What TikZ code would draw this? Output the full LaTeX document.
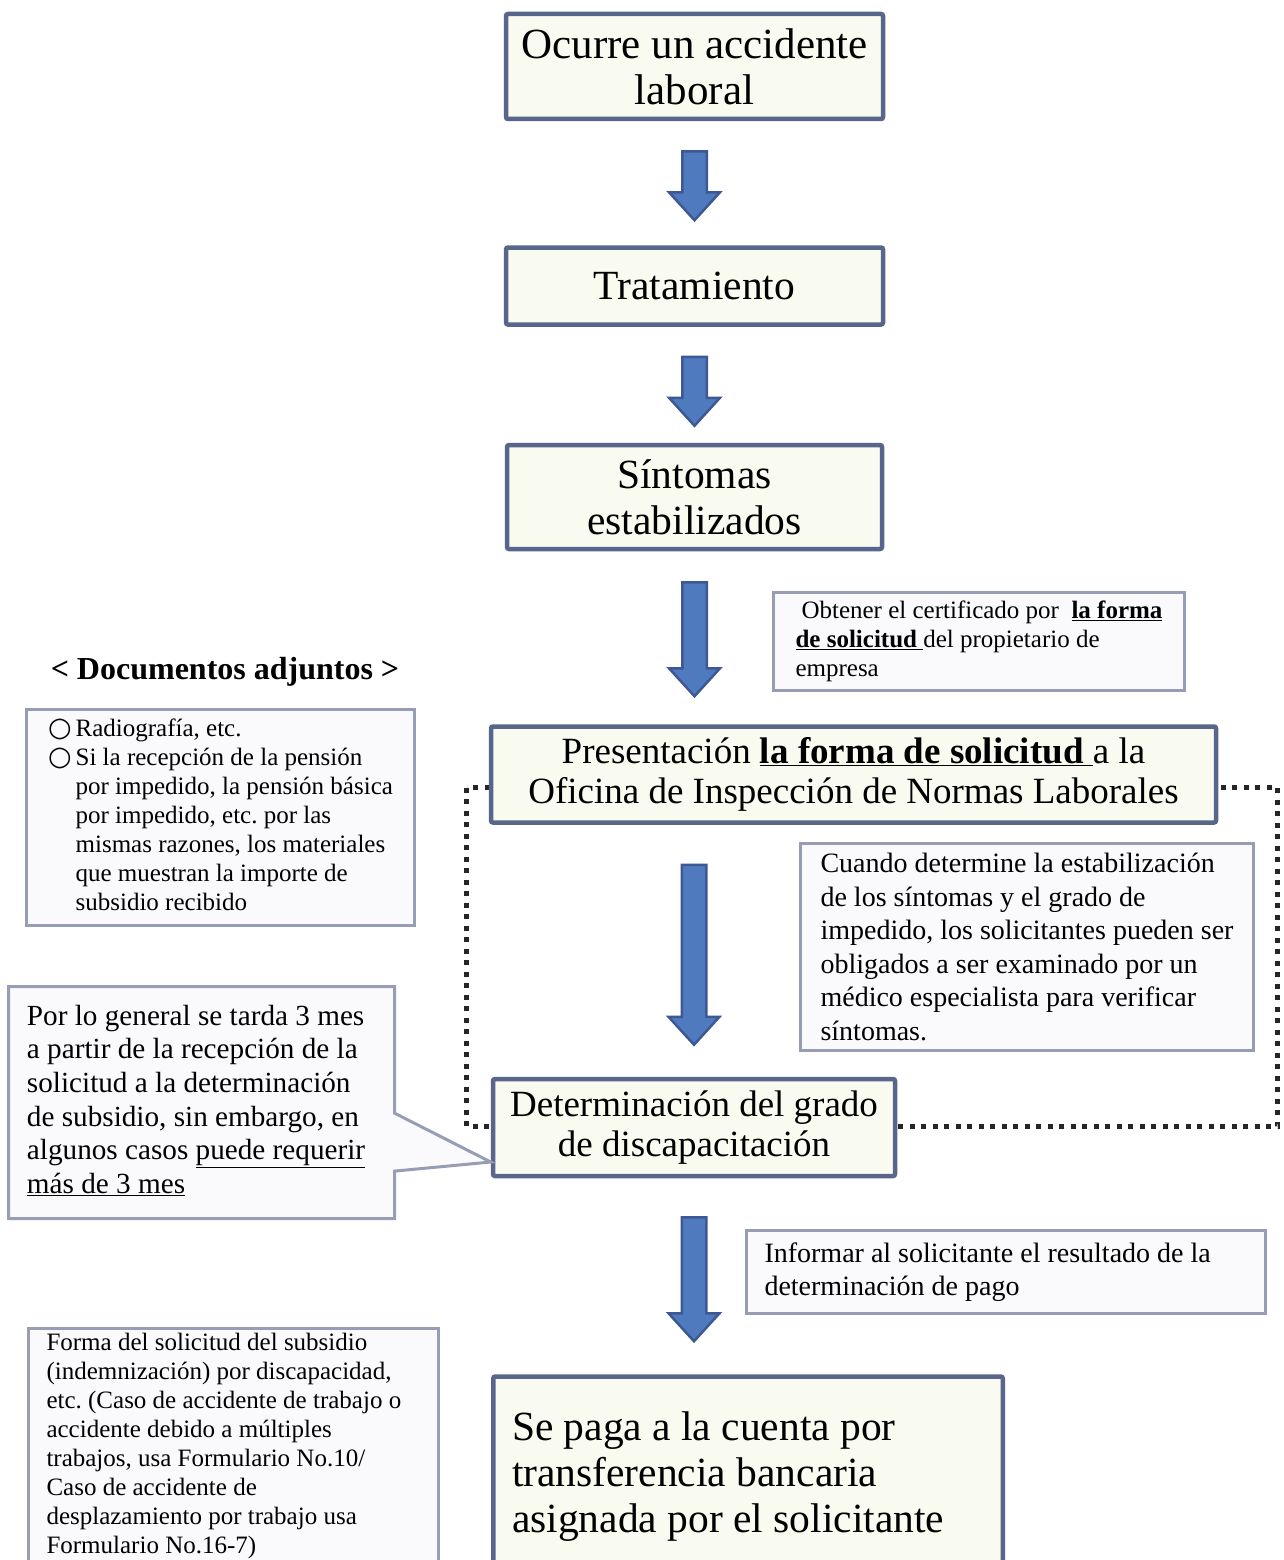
\documentclass[tikz,border=0pt]{standalone}
\usepackage{fontspec}
\setmainfont{Liberation Serif}
\newfontfamily\symbolfont{DejaVu Sans}
\usetikzlibrary{positioning, calc, shapes.callouts}
\frenchspacing

\definecolor{boxedge}{RGB}{88,102,140}
\definecolor{boxfill}{RGB}{249,250,240}
\definecolor{noteedge}{RGB}{152,157,182}
\definecolor{notefill}{RGB}{250,250,253}
\definecolor{arrowfill}{RGB}{80,122,190}
\definecolor{arrowedge}{RGB}{62,88,150}

% fat block arrow from #1 (top) to #2 (tip)
\newcommand{\flowarrow}[2]{%
  \draw[fatarrow] let \p1=#1, \p2=#2 in
    (\x1-12.25pt,\y1) -- (\x1+12.25pt,\y1) -- (\x1+12.25pt,\y2+28pt) -- (\x1+25.5pt,\y2+28pt)
    -- (\x1,\y2) -- (\x1-25.5pt,\y2+28pt) -- (\x1-12.25pt,\y2+28pt) -- cycle;}

\begin{document}
\begin{tikzpicture}[
  x=1pt, y=-1pt,
  stepbox/.style={
    rectangle, rounded corners=2pt, draw=boxedge, line width=4.5pt,
    fill=boxfill, align=center, inner sep=0pt
  },
  notebox/.style={
    rectangle, draw=noteedge, line width=3pt, fill=notefill,
    align=flush left, inner sep=0pt
  },
  bigfont/.style={font=\fontsize{41.5}{46}\selectfont},
  midfont/.style={font=\fontsize{37}{40}\selectfont},
  notefont/.style={font=\fontsize{28}{33.6}\selectfont},
  smallfont/.style={font=\fontsize{25}{29}\selectfont},
  fatarrow/.style={draw=arrowedge, fill=arrowfill, line width=2.5pt, line join=miter},
  dotframe/.style={draw=black!85, line width=5pt, dash pattern=on 5pt off 6.5pt}
]
\path[use as bounding box, fill=white] (0,0) rectangle (1283,1560);

% dotted frame behind the examination step
\draw[dotframe] (466.5,787.5) rectangle (1277.5,1126.5);

% main flow
\node[stepbox, font=\fontsize{43}{46}\selectfont, minimum width=377pt, minimum height=105pt] (accident) at (694.5,66.5) {Ocurre un accidente\\laboral};
\node[stepbox, bigfont, minimum width=377pt, minimum height=77pt, below=124pt of accident] (treat) {Tratamiento};
\node[stepbox, bigfont, minimum width=375pt, minimum height=104pt, below=116pt of treat] (stable) {Síntomas\\estabilizados};
\node[stepbox, midfont, minimum width=725pt, minimum height=96pt, below=173pt of stable, xshift=159pt] (submit)
  {Presentación \underline{\textbf{la forma de solicitud}\ }a la\\Oficina de Inspección de Normas Laborales};
\node[stepbox, midfont, minimum width=402pt, minimum height=97pt, below=252pt of submit, xshift=-159.5pt] (grade)
  {Determinación del grado\\de discapacitación};
\node[stepbox, bigfont, minimum width=509.5pt, minimum height=200pt, text width=472pt, align=flush left, below=196pt of grade, xshift=54pt] (pay)
  {Se paga a la cuenta por\\transferencia bancaria\\asignada por el solicitante};

% side notes
\node[notebox, smallfont, minimum width=411pt, minimum height=98pt] (cert) at (979,641.5)
  {\hspace{6pt}Obtener el certificado por\ \ \underline{\textbf{la forma}}\\\underline{\textbf{de solicitud}\ }del propietario de\\empresa};
\node[font=\fontsize{32}{35}\selectfont\bfseries] (doctitle) at (225,672) {< Documentos adjuntos >};
\node[notebox, smallfont, minimum width=388pt, minimum height=216pt] (docs) at (220.5,817.5)
  {\begin{tabular}{@{}l@{\hspace{4pt}}l@{}}
   {\symbolfont\fontsize{27}{29}\selectfont ○}&Radiografía, etc.\\
   {\symbolfont\fontsize{27}{29}\selectfont ○}&Si la recepción de la pensión\\
   &por impedido, la pensión básica\\
   &por impedido, etc. por las\\
   &mismas razones, los materiales\\
   &que muestran la importe de\\
   &subsidio recibido
   \end{tabular}};
\node[notebox, notefont, minimum width=453pt, minimum height=207pt] (exam) at (1027,947)
  {Cuando determine la estabilización\\de los síntomas y el grado de\\impedido, los solicitantes pueden ser\\obligados a ser examinado por un\\médico especialista para verificar\\síntomas.};
\node[notebox, font=\fontsize{29.2}{33.6}\selectfont, rectangle callout, callout absolute pointer={($(grade.west)+(0,34.5)$)},
  callout pointer width=58pt, minimum width=386pt, minimum height=232pt, text width=386pt] (period) at (201.5,1102.5)
  {\hspace*{18.5pt}\begin{tabular}{@{}l@{}}
   Por lo general se tarda 3 mes\\
   a partir de la recepción de la\\
   solicitud a la determinación\\
   de subsidio, sin embargo, en\\
   algunos casos \underline{puede requerir}\\
   \underline{más de 3 mes}
   \end{tabular}};
\node[notebox, notefont, minimum width=519pt, minimum height=83pt, text width=483pt] (inform) at (1006,1272)
  {Informar al solicitante el resultado de la\\determinación de pago};
\node[notebox, smallfont, minimum width=410pt, minimum height=234pt, text width=374pt] (formdoc) at (233.5,1445.5)
  {Forma del solicitud del subsidio\\(indemnización) por discapacidad,\\etc. (Caso de accidente de trabajo o\\accidente debido a múltiples\\trabajos, usa Formulario No.10/\\Caso de accidente de\\desplazamiento por trabajo usa\\Formulario No.16-7)};

% block arrows
\flowarrow{($(accident.south)+(0,30)$)}{($(treat.north)+(0,-25)$)}
\flowarrow{($(treat.south)+(0,30)$)}{($(stable.north)+(0,-17)$)}
\flowarrow{($(stable.south)+(0,31)$)}{($(stable.south |- submit.north)+(0,-28)$)}
\flowarrow{($(grade.north |- submit.south)+(0,40)$)}{($(grade.north)+(0,-32)$)}
\flowarrow{($(grade.south)+(0,39)$)}{($(grade.south |- pay.north)+(0,-33)$)}
\end{tikzpicture}
\end{document}
